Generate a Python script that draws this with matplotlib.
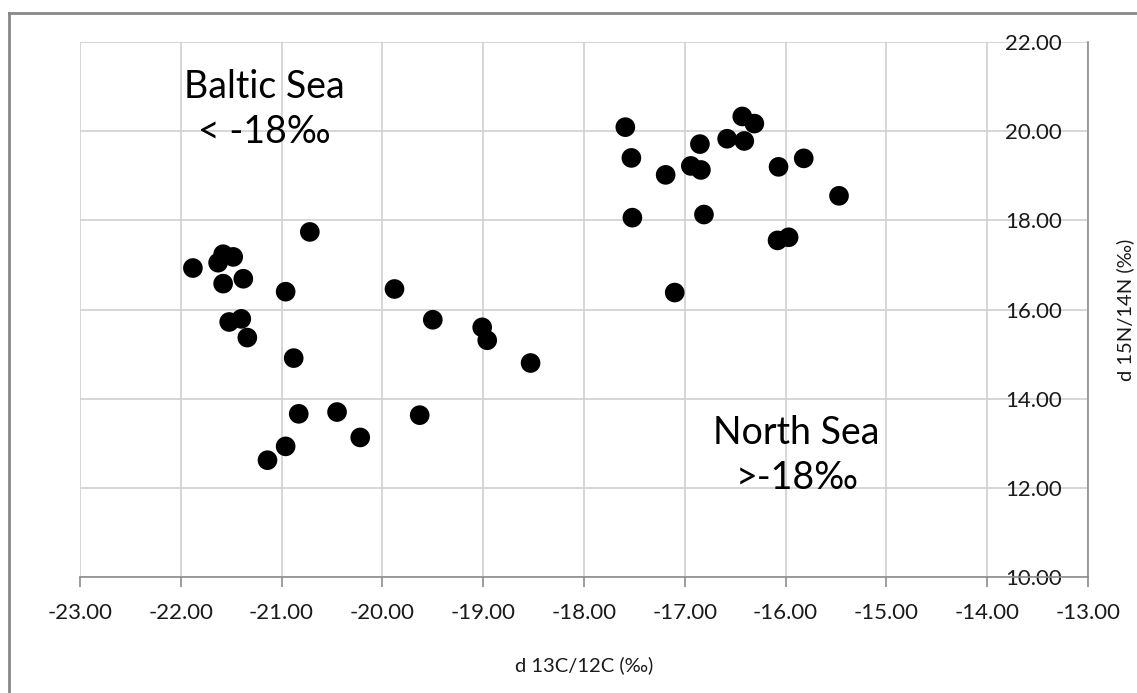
import matplotlib
matplotlib.use("Agg")
import matplotlib.pyplot as plt
from matplotlib.lines import Line2D

# Data: d13C (x) and d15N (y)
baltic_x = [-21.88, -21.63, -21.58, -21.48, -21.58, -21.38, -20.96, -20.72, -19.88,
            -21.52, -21.40, -21.34, -20.88, -20.83, -20.45, -19.63, -20.22, -20.96,
            -21.14, -19.50, -19.01, -18.96, -18.53]
baltic_y = [16.93, 17.05, 17.24, 17.18, 16.58, 16.69, 16.40, 17.74, 16.46,
            15.72, 15.79, 15.37, 14.91, 13.66, 13.70, 13.63, 13.13, 12.93,
            12.62, 15.77, 15.60, 15.31, 14.80]
north_x = [-17.59, -17.53, -17.52, -17.19, -16.94, -16.84, -16.85, -16.81, -17.10,
           -16.58, -16.43, -16.31, -16.41, -16.07, -15.82, -15.47, -16.08, -15.97]
north_y = [20.09, 19.40, 18.06, 19.02, 19.22, 19.13, 19.71, 18.13, 16.38,
           19.83, 20.33, 20.17, 19.78, 19.20, 19.39, 18.55, 17.55, 17.62]

x_ticks = [-23, -22, -21, -20, -19, -18, -17, -16, -15, -14, -13]
y_ticks = [10, 12, 14, 16, 18, 20, 22]
x_ticklabels = [f"{v:.2f}" for v in x_ticks]
y_ticklabels = [f"{v:.2f}" for v in y_ticks]

plt.rcParams['font.family'] = ['Lato', 'DejaVu Sans']

W, H = 1137, 693
fig = plt.figure(figsize=(W / 100, H / 100), dpi=100)
ax = fig.add_axes([80 / W, 1 - 577 / H, (1088 - 80) / W, (577 - 42) / H])

ax.scatter(baltic_x + north_x, baltic_y + north_y, s=200, c='black',
           edgecolors='none', zorder=3)

ax.set_xlim(-23, -13)
ax.set_ylim(10, 22)
ax.set_xticks(x_ticks)
ax.set_xticklabels(x_ticklabels)
ax.set_yticks(y_ticks)
ax.set_yticklabels(y_ticklabels)

ax.grid(True, color='#d0d0d0', linewidth=1.2, zorder=0)
ax.set_axisbelow(True)

for s in ['top', 'left']:
    ax.spines[s].set_visible(False)
for s in ['bottom', 'right']:
    ax.spines[s].set_color('#8c8c8c')
    ax.spines[s].set_linewidth(1.2)

ax.tick_params(axis='x', direction='out', length=7, width=1.2, color='#8c8c8c',
               labelsize=16, pad=12, labelcolor='#1a1a1a')
ax.yaxis.set_ticks_position('right')
ax.tick_params(axis='y', which='both', length=0, labelsize=16, pad=-19,
               labelcolor='#1a1a1a', labelright=True, labelleft=False)
for lab in ax.get_yticklabels():
    lab.set_horizontalalignment('right')

ax.set_xlabel("d 13C/12C (‰)", fontsize=14.5, labelpad=24, color='#1a1a1a')
ax.yaxis.set_label_position('right')
ax.set_ylabel("d 15N/14N (‰)", fontsize=14.5, labelpad=20, color='#1a1a1a')

ax.text(-21.17, 20.48, "Baltic Sea\n< -18‰", fontsize=27, ha='center', va='center',
        linespacing=1.3, color='#000000')
ax.text(-15.89, 12.73, "North Sea\n>-18‰", fontsize=27, ha='center', va='center',
        linespacing=1.3, color='#000000')

# outer border (top and left visible)
fig.add_artist(Line2D([9 / W, 9 / W], [0, 1 - 12.5 / H], transform=fig.transFigure,
                      color='#888888', linewidth=2))
fig.add_artist(Line2D([9 / W, 1], [1 - 12.5 / H, 1 - 12.5 / H], transform=fig.transFigure,
                      color='#888888', linewidth=2))

fig.savefig("out.png", dpi=100)
